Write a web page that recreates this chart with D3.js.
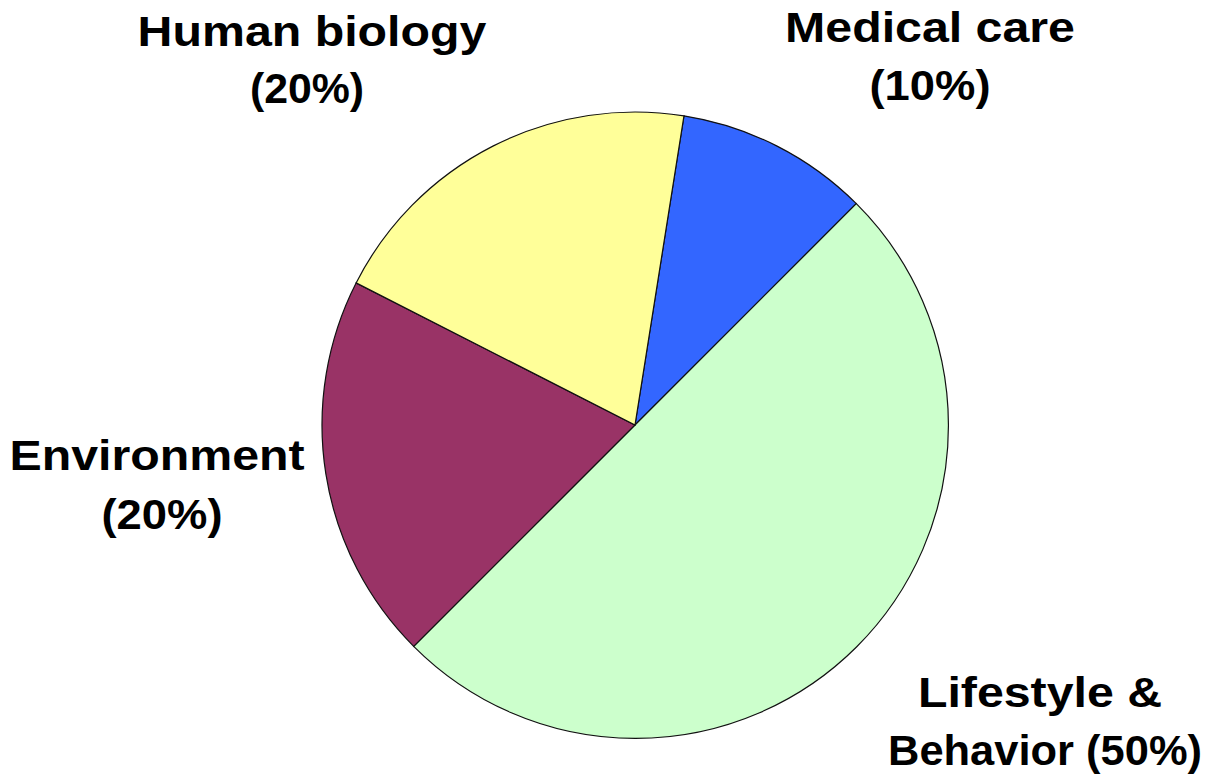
<!DOCTYPE html>
<html lang="en">
<head>
    <meta charset="utf-8">
    <title>Determinants of health</title>
    <script src="https://cdn.jsdelivr.net/npm/d3@7"></script>
    <style>
        body { margin: 0; background: #fff; }
        text { font-family: "Liberation Sans", Arial, Helvetica, sans-serif; font-weight: bold; }
    </style>
</head>
<body>
    <script type="text/javascript">
        // data
        var categories = ["Medical care", "Lifestyle & Behavior", "Environment", "Human biology"];
        var shares = [10, 50, 20, 20];
        var colors = ["#3366ff", "#ccffcc", "#993366", "#ffff99"];
        // label lines per slice
        var labelLines = [
            ["Medical care", "(10%)"],
            ["Lifestyle &", "Behavior (50%)"],
            ["Environment", "(20%)"],
            ["Human biology", "(20%)"]
        ];

        var width = 1211;
        var height = 780;
        var cx = 635, cy = 425, radius = 313;
        // where each label line sits (centre x, baseline y) and its horizontal stretch
        var linePos = [
            [[930, 42, 1.15], [930, 100, 1.08]],
            [[1040, 707, 1.15], [1045, 765, 1.035]],
            [[157, 470, 1.15], [162, 529, 1.08]],
            [[312, 46, 1.15], [307, 103, 1.02]]
        ];

        var svg = d3.select("body").append("svg")
            .attr("width", width)
            .attr("height", height);

        var pie = d3.pie()
            .sort(null)
            .value(d => d)
            .startAngle(Math.PI / 20)
            .endAngle(Math.PI / 20 + 2 * Math.PI);

        var arc = d3.arc().innerRadius(0).outerRadius(radius);

        svg.append("g")
            .attr("transform", `translate(${cx},${cy})`)
            .selectAll("path")
            .data(pie(shares))
            .join("path")
            .attr("d", arc)
            .attr("fill", (d, i) => colors[i])
            .attr("stroke", "#111")
            .attr("stroke-width", 1.2);

        var labels = svg.append("g").selectAll("g")
            .data(labelLines.map((lines, i) => lines.map((t, j) => ({ t: t, p: linePos[i][j] }))))
            .join("g");

        labels.selectAll("text")
            .data(d => d)
            .join("text")
            .attr("transform", d => `translate(${d.p[0]},${d.p[1]}) scale(${d.p[2]},1)`)
            .attr("text-anchor", "middle")
            .attr("font-size", 42)
            .attr("fill", "#000")
            .text(d => d.t);
    </script>
</body>
</html>
